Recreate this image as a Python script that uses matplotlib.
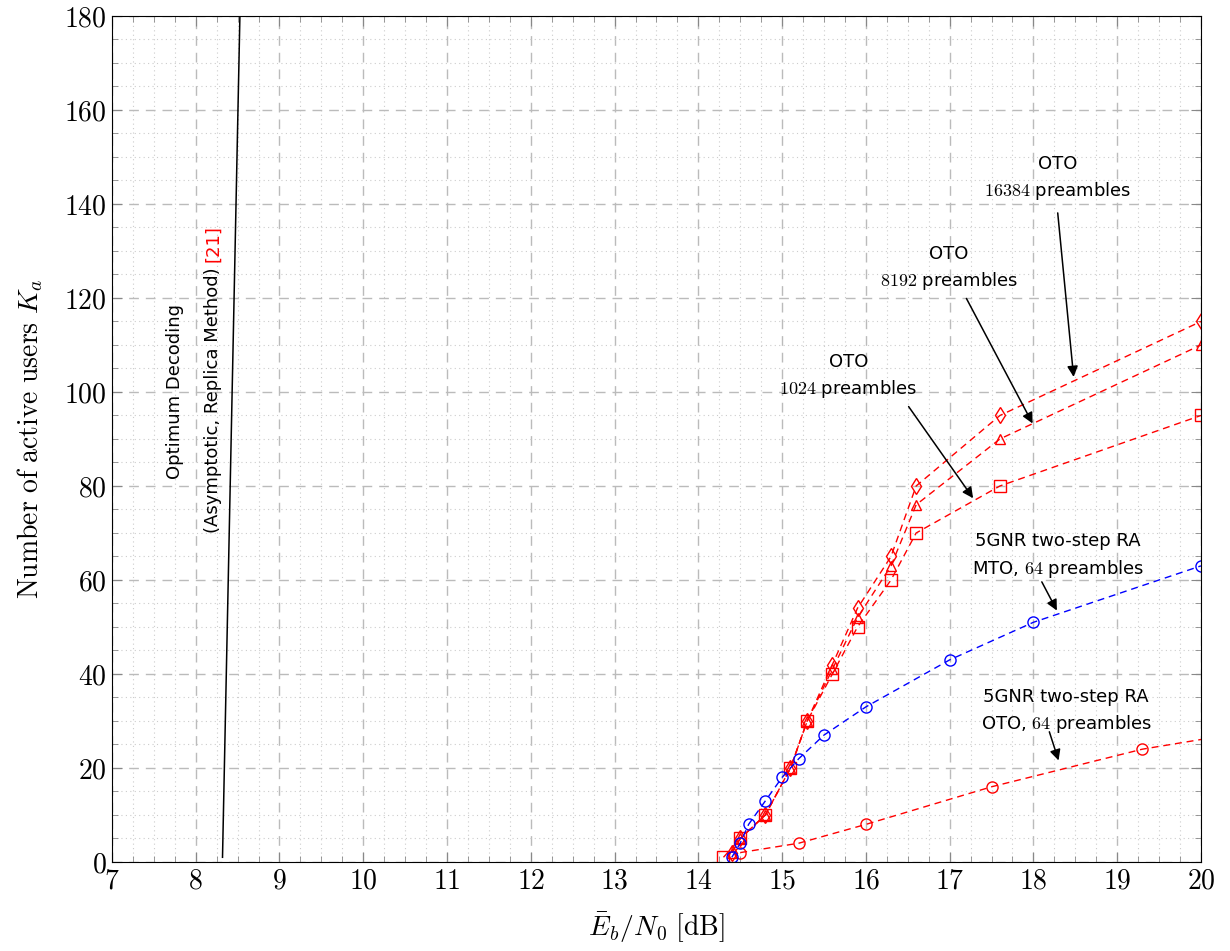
import matplotlib
matplotlib.use("Agg")
import matplotlib.pyplot as plt
from matplotlib.ticker import MultipleLocator, FuncFormatter

plt.rcParams['mathtext.fontset'] = 'cm'
plt.rcParams['font.family'] = ['DejaVu Sans']

# OTO, 1024 / 8192 / 16384 preambles
oto_x_sq = [14.3, 14.5, 14.8, 15.1, 15.3, 15.6, 15.9, 16.3, 16.6, 17.6, 20]
oto_y_1024 = [1, 5, 10, 20, 30, 40, 50, 60, 70, 80, 95]
oto_x = [14.4, 14.5, 14.8, 15.1, 15.3, 15.6, 15.9, 16.3, 16.6, 17.6, 20]
oto_y_8192 = [2, 5, 10, 20, 30, 41, 52, 63, 76, 90, 110]
oto_y_16384 = [2, 5, 10, 20, 30, 42, 54, 65, 80, 95, 115]

# 5GNR two-step RA, 64 preambles
mto_x = [14.4, 14.5, 14.6, 14.8, 15.0, 15.2, 15.5, 16.0, 17.0, 18.0, 20]
mto_y = [1, 4, 8, 13, 18, 22, 27, 33, 43, 51, 63]
oto64_x = [14.5, 15.2, 16.0, 17.5, 19.3, 21]
oto64_y = [2, 4, 8, 16, 24, 29]

# optimum decoding (asymptotic)
opt_x = [8.32, 8.53]
opt_y = [1, 182]

fig, ax = plt.subplots(figsize=(12.3, 9.51), dpi=100)
fig.subplots_adjust(left=0.091, right=0.9764, bottom=0.0936, top=0.9832)

ax.set_xlim(7, 20)
ax.set_ylim(0, 180)
ax.xaxis.set_major_locator(MultipleLocator(1))
ax.xaxis.set_minor_locator(MultipleLocator(0.25))
ax.yaxis.set_major_locator(MultipleLocator(20))
ax.yaxis.set_minor_locator(MultipleLocator(5))
fmt = FuncFormatter(lambda v, p: f'${v:g}$')
ax.xaxis.set_major_formatter(fmt)
ax.yaxis.set_major_formatter(fmt)
ax.tick_params(which='both', direction='in', top=True, right=True, color='#888888', labelsize=20)
ax.tick_params(which='major', length=7)
ax.tick_params(which='minor', length=4)
ax.set_axisbelow(True)

# Grids
ax.grid(True, which='major', color='#bbbbbb', linestyle=(0, (7, 5)), linewidth=1)
ax.grid(True, which='minor', color='#cccccc', linestyle=(0, (1, 3)), linewidth=0.8)

ax.set_xlabel(r'$\bar{E}_b/N_0\ \mathrm{[dB]}$', fontsize=20, labelpad=11)
ax.set_ylabel(r'$\mathrm{Number\ of\ active\ users}\ K_a$', fontsize=20, labelpad=14)

dash = (0, (5, 3.5))
ax.plot(opt_x, opt_y, color='black', linewidth=1.1)
ax.plot(oto64_x, oto64_y, color='red', linestyle=dash, linewidth=1, marker='o', ms=8,
        mfc='none', mew=1)
ax.plot(oto_x_sq, oto_y_1024, color='red', linestyle=dash, linewidth=1, marker='s', ms=8.5,
        mfc='none', mew=1)
ax.plot(oto_x, oto_y_8192, color='red', linestyle=dash, linewidth=1, marker='^', ms=7.5,
        mfc='none', mew=1)
ax.plot(oto_x, oto_y_16384, color='red', linestyle=dash, linewidth=1, marker='d', ms=8,
        mfc='none', mew=1)
ax.plot(mto_x, mto_y, color='blue', linestyle=dash, linewidth=1, marker='o', ms=8,
        mfc='none', mew=1)

# Optimum decoding label
ax.text(7.75, 100.2, 'Optimum Decoding', rotation=90, ha='center', va='center', fontsize=13)
ax.text(8.21, 126.5, '(Asymptotic, Replica Method)', rotation=90, ha='center', va='top',
        fontsize=13)
ax.text(8.21, 127.6, '[21]', rotation=90, ha='center', va='bottom', fontsize=13, color='red')

# Annotations
arrow = dict(arrowstyle='-|>', color='black', lw=1.1, mutation_scale=16, shrinkA=0, shrinkB=0)
notes = [
    ('OTO\n$16384$ preambles', (18.29, 145.4), (18.29, 138.1), (18.48, 103.2)),
    ('OTO\n$8192$ preambles', (16.99, 126.3), (17.20, 119.9), (17.99, 93.3)),
    ('OTO\n$1024$ preambles', (15.79, 103.3), (16.51, 96.9), (17.28, 77.4)),
    ('5GNR two-step RA\nMTO, $64$ preambles', (18.29, 65.1), (18.10, 59.6), (18.28, 53.5)),
    ('5GNR two-step RA\nOTO, $64$ preambles', (18.39, 32.0), (18.19, 27.7), (18.30, 21.6)),
]
for txt, pos, tail, head in notes:
    ax.text(pos[0], pos[1], txt, ha='center', va='center', fontsize=13, linespacing=1.45,
            multialignment='center')
    ax.annotate('', xy=head, xytext=tail, arrowprops=arrow)

fig.savefig('out.png', dpi=100)
